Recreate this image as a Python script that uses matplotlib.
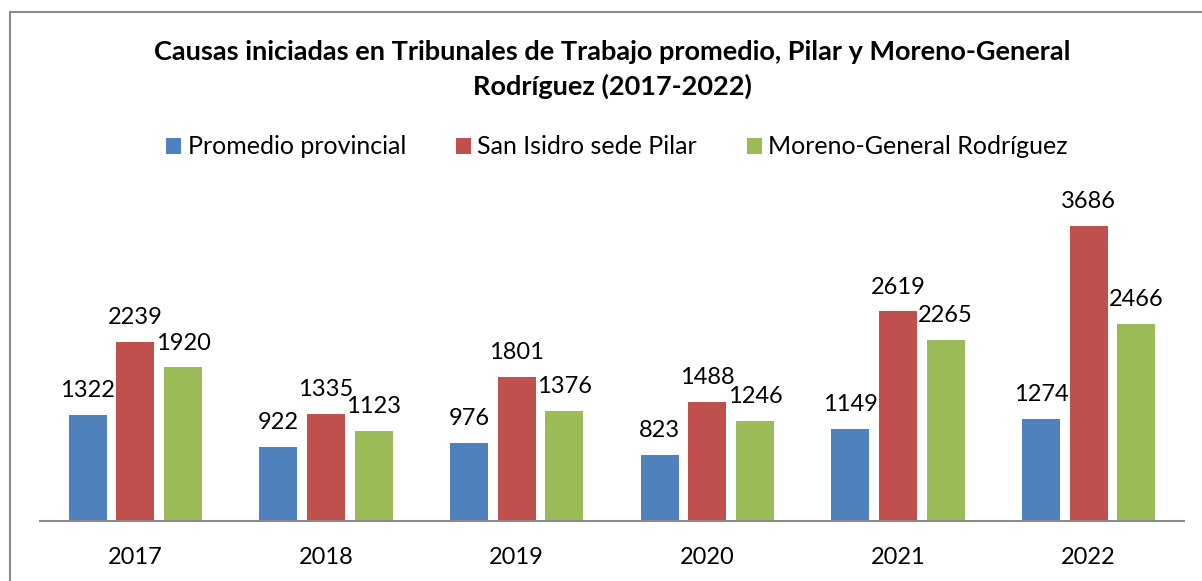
import matplotlib
matplotlib.use("Agg")
import matplotlib.pyplot as plt
import numpy as np
from matplotlib.patches import Patch, Rectangle

# --- Data ---
years = ["2017", "2018", "2019", "2020", "2021", "2022"]
promedio = [1322, 922, 976, 823, 1149, 1274]
pilar = [2239, 1335, 1801, 1488, 2619, 3686]
moreno = [1920, 1123, 1376, 1246, 2265, 2466]

series_names = ["Promedio provincial", "San Isidro sede Pilar", "Moreno-General Rodríguez"]
colors = ["#4F81BD", "#C0504D", "#9BBB59"]

plt.rcParams['font.family'] = ['Lato', 'DejaVu Sans']

fig = plt.figure(figsize=(12.02, 5.81), dpi=100)
ax = fig.add_axes([40 / 1202, 60 / 581, 1144 / 1202, 320 / 581])

x = np.arange(len(years))
width = 0.2
step = 0.25
for i, (vals, name, col) in enumerate(zip([promedio, pilar, moreno], series_names, colors)):
    pos = x + (i - 1) * step
    bars = ax.bar(pos, vals, width, color=col, label=name)
    for b, v in zip(bars, vals):
        ax.annotate(str(v), (b.get_x() + b.get_width() / 2, v),
                    xytext=(0, 10), textcoords="offset points",
                    ha="center", va="bottom", fontsize=17, color="#000000")

ax.set_xlim(-0.5, len(years) - 0.5)
ax.set_ylim(0, 4000)
ax.set_xticks(x)
ax.set_xticklabels(years, fontsize=17)
ax.tick_params(axis="x", length=0, pad=19)
ax.set_yticks([])
for s in ["left", "right", "top"]:
    ax.spines[s].set_visible(False)
ax.spines["bottom"].set_color("#8C8C8C")
ax.spines["bottom"].set_linewidth(1.5)

# chart frame (cropped at right/bottom)
fig.patches.append(Rectangle((10 / 1202, -0.1), 1.2, (581 - 12) / 581 + 0.1,
                             transform=fig.transFigure, fill=False,
                             edgecolor="#8C8C8C", linewidth=1.5))

fig.text(612 / 1202, 1 - 52 / 581,
         "Causas iniciadas en Tribunales de Trabajo promedio, Pilar y Moreno-General",
         ha="center", va="center", fontsize=19.5, fontweight="bold")
fig.text(612 / 1202, 1 - 86 / 581, "Rodríguez (2017-2022)",
         ha="center", va="center", fontsize=19.5, fontweight="bold")

handles = [Patch(facecolor=c) for c in colors]
fig.legend(handles, series_names, loc="center", bbox_to_anchor=(617 / 1202, 1 - 147 / 581),
           ncol=3, frameon=False, fontsize=18, handlelength=0.6, handleheight=0.6,
           handletextpad=0.25, columnspacing=2.0)

fig.savefig("out.png", dpi=100)
